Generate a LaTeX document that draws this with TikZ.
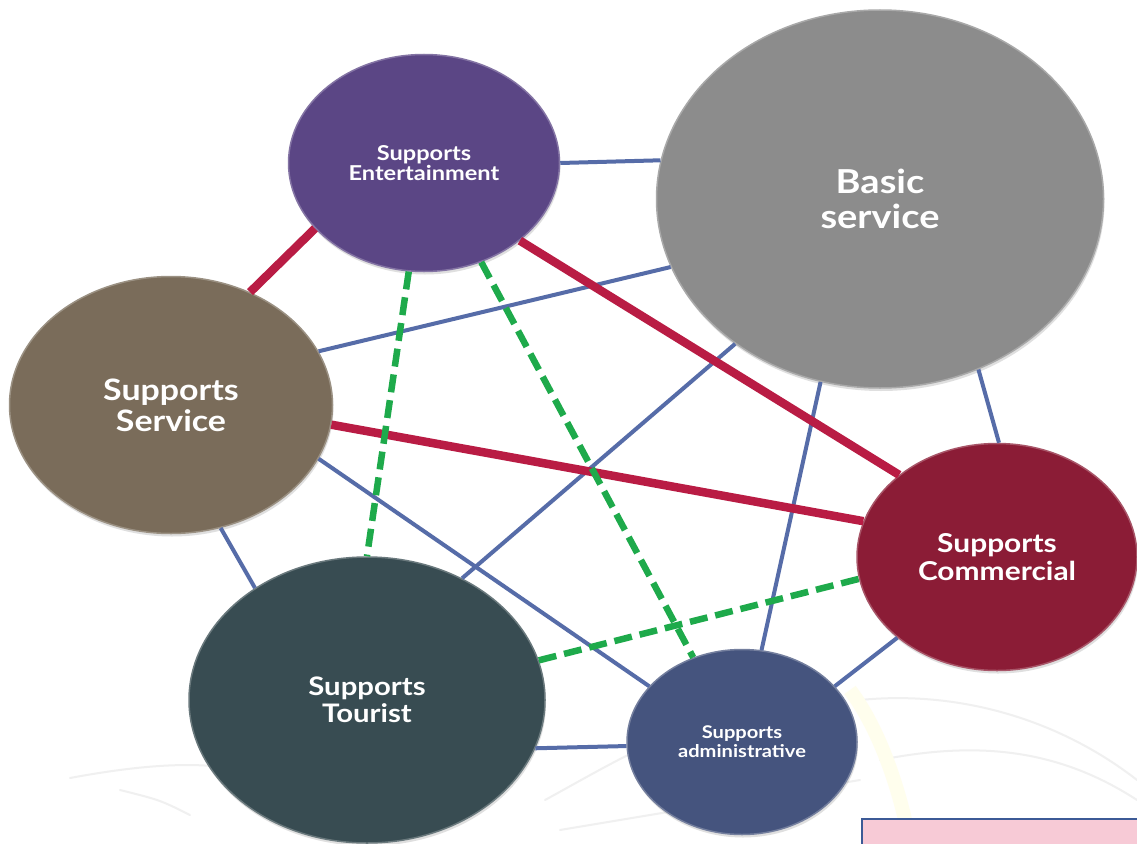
\documentclass[tikz,border=0pt]{standalone}
\usepackage{fontspec}
\setmainfont{Lato}
\newfontfamily\widefont[FakeStretch=1.15]{Lato}
\usetikzlibrary{shapes.geometric,shadows}
\definecolor{cEnt}{RGB}{91,70,133}
\definecolor{cBas}{RGB}{140,140,140}
\definecolor{cSer}{RGB}{122,108,90}
\definecolor{cCom}{RGB}{139,28,54}
\definecolor{cTou}{RGB}{56,76,82}
\definecolor{cAdm}{RGB}{69,84,126}
\definecolor{lBlue}{RGB}{86,108,168}
\definecolor{lRed}{RGB}{185,28,68}
\definecolor{lGreen}{RGB}{30,170,75}
\definecolor{pinkbox}{RGB}{247,202,214}
\definecolor{pinkedge}{RGB}{60,90,150}
\tikzset{
  bubble/.style={ellipse, inner sep=0pt, text=white, align=center,
    line width=1.5pt,
    drop shadow={shadow xshift=1pt, shadow yshift=-3pt, opacity=0.25}},
  bluelink/.style={lBlue, line width=4pt},
  redlink/.style={lRed, line width=8.5pt},
  greenlink/.style={lGreen, line width=6.5pt, dash pattern=on 18pt off 8pt},
  sketch/.style={gray!12, line width=2pt, line cap=round},
}
\begin{document}
\begin{tikzpicture}[x=1pt,y=-1pt]
\useasboundingbox (0,0) rectangle (1137,843);
\fill[white] (0,0) rectangle (1137,843);
% faint background sketch
\draw[sketch] (70,778) .. controls (140,765) and (190,762) .. (230,768);
\draw[sketch] (120,790) .. controls (160,800) .. (190,815);
\draw[sketch] (545,800) .. controls (600,770) and (640,745) .. (700,725);
\draw[sketch] (860,700) .. controls (960,690) and (1060,720) .. (1137,780);
\draw[sketch] (880,760) .. controls (980,740) and (1060,750) .. (1137,800);
\draw[yellow!7, line width=14pt] (850,690) .. controls (880,730) and (900,790) .. (910,843);
\draw[sketch] (560,830) -- (860,780);
% nodes
\node[bubble, fill=cEnt, draw=cEnt!75!white, minimum width=271, minimum height=217,
  font={\widefont\bfseries\fontsize{20.5}{20.5}\selectfont}] (ent) at (424,163) {Supports\\Entertainment};
\node[bubble, fill=cBas, draw=cBas!75!white, minimum width=447, minimum height=378,
  font={\widefont\bfseries\fontsize{33}{35}\selectfont}] (bas) at (880,199) {Basic\\service};
\node[bubble, fill=cSer, draw=cSer!75!white, minimum width=323, minimum height=257,
  font={\widefont\bfseries\fontsize{29.5}{31}\selectfont}] (ser) at (171,405) {Supports\\Service};
\node[bubble, fill=cCom, draw=cCom!75!white, minimum width=280, minimum height=227,
  font={\widefont\bfseries\fontsize{26}{28}\selectfont}] (com) at (997,557) {Supports\\Commercial};
\node[bubble, fill=cTou, draw=cTou!75!white, minimum width=356, minimum height=286,
  font={\widefont\bfseries\fontsize{25.5}{27}\selectfont}] (tou) at (367,700) {Supports\\Tourist};
\node[bubble, fill=cAdm, draw=cAdm!75!white, minimum width=230, minimum height=185,
  font={\widefont\bfseries\fontsize{17.5}{19}\selectfont}] (adm) at (742,742) {Supports\\administrative};
% pink box
\node[draw=pinkedge, fill=pinkbox, line width=1.5pt, minimum width=280, minimum height=30, inner sep=0pt, anchor=north west] (pbox) at (861,818) {};
% blue links
\draw[bluelink] (ent.0) -- (bas.170.6);
\draw[bluelink] (ser.20.2) -- (bas.198.8);
\draw[bluelink] (tou.52.3) -- (bas.225.4);
\draw[bluelink] (bas.252.7) -- (adm.78.9);
\draw[bluelink] (bas.300.1) -- (com.89.5);
\draw[bluelink] (ser.340.4) -- (adm.149.1);
\draw[bluelink] (ser.292) -- (tou.135.3);
\draw[bluelink] (com.219.3) -- (adm.31.5);
\draw[bluelink] (tou.344.1) -- (adm.182.5);
% red links
\draw[redlink] (ser.55.5) -- (ent.211.8);
\draw[redlink] (ent.321) -- (com.140.5);
\draw[redlink] (ser.353.9) -- (com.165.9);
% green links
\draw[greenlink] (ent.262) -- (tou.90.4);
\draw[greenlink] (ent.300) -- (adm.120.3);
\draw[greenlink] (tou.13.6) -- (com.189.3);
\end{tikzpicture}
\end{document}
